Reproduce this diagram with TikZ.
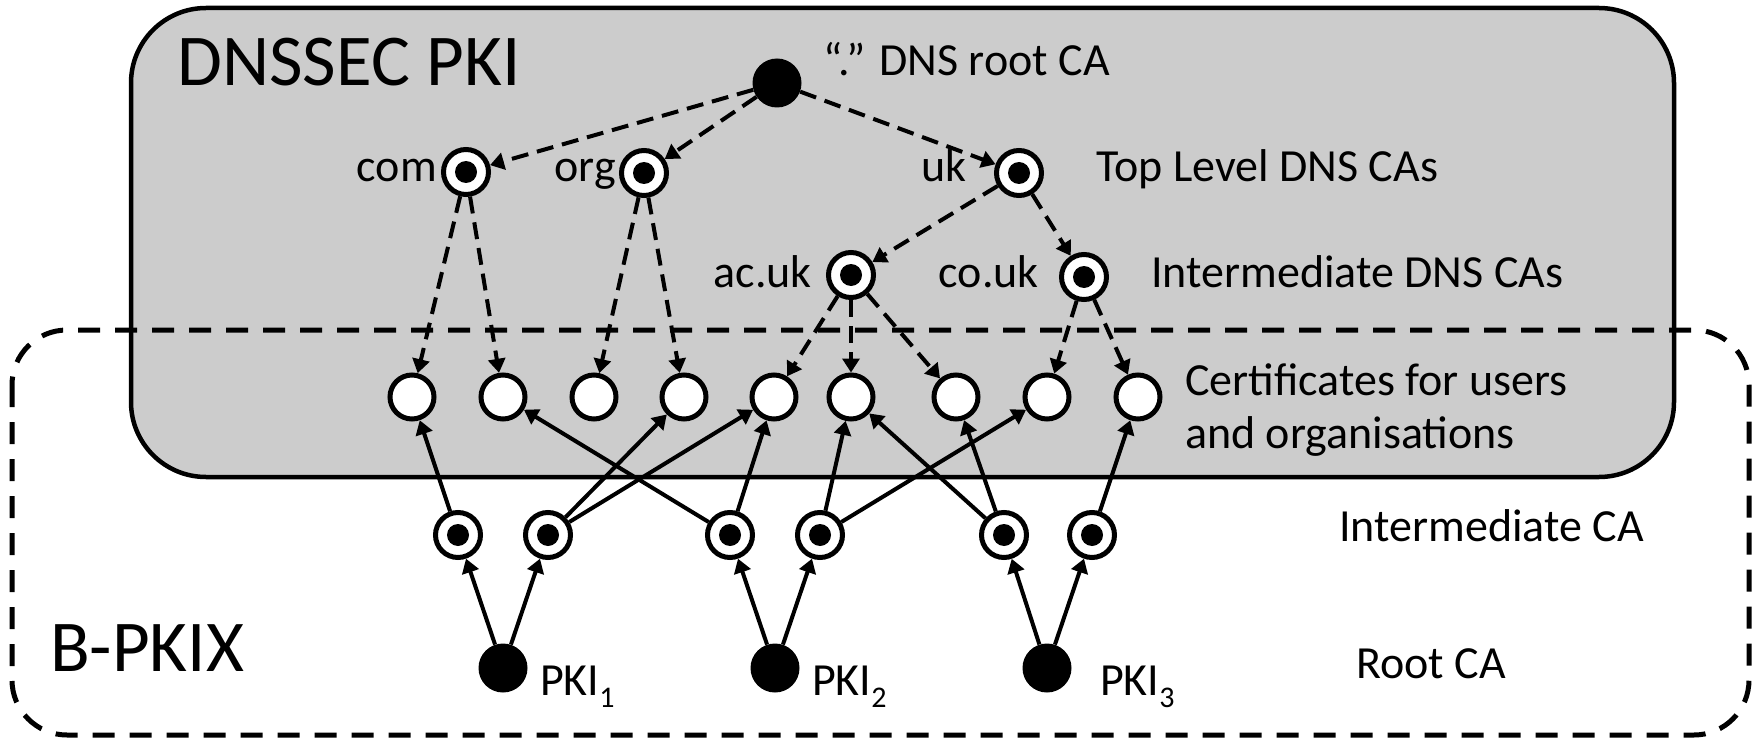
\documentclass[tikz,border=0pt]{standalone}
\usepackage{fontspec}
\setmainfont{Carlito}
\usetikzlibrary{arrows.meta}
\begin{document}
\begin{tikzpicture}[x=1pt,y=-1pt,
  dot/.style={circle, fill=black, minimum size=49pt, inner sep=0pt},
  ca/.style={circle, draw, line width=5pt, fill=white, minimum size=45pt, inner sep=0pt,
    path picture={\fill[black] (path picture bounding box.center) circle (11pt);}},
  cert/.style={circle, draw, line width=5pt, fill=white, minimum size=44pt, inner sep=0pt},
  lbl/.style={inner sep=0pt, font=\fontsize{46}{53}\selectfont},
  big/.style={inner sep=0pt, font=\fontsize{73}{80}\selectfont},
  dnsarrow/.style={line width=4pt, dash pattern=on 17pt off 9pt, -{Triangle[length=14pt,width=17pt]}},
  pkiarrow/.style={line width=4pt, -{Triangle[length=14pt,width=17pt]}},
  grayzone/.style={draw, fill=gray!40, line width=4.5pt, rounded corners=75pt},
  dashzone/.style={draw, line width=5pt, dash pattern=on 22pt off 15pt, rounded corners=55pt},
]
\useasboundingbox (0,0) rectangle (1757,741);
% zones
\path[grayzone] (131,8) rectangle (1674,477);
\path[dashzone] (12,330) rectangle (1749,735);
\node[big, anchor=base west] (dnssec) at (177,86) {DNSSEC PKI};
\node[big, anchor=base west] (bpkix) at (50,671) {B-PKIX};

% DNS nodes
\node[dot] (root) at (777,83) {};
\node[ca] (com) at (466,172) {};
\node[ca] (org) at (644,173) {};
\node[ca] (uk) at (1019,173) {};
\node[ca] (acuk) at (851,275) {};
\node[ca] (couk) at (1084,277) {};

% certificates
\foreach \i/\x in {1/412,2/503,3/594,4/684,5/774,6/851,7/956,8/1047,9/1138}
  \node[cert] (c\i) at (\x,397) {};

% intermediate CAs
\foreach \i/\x in {1/458,2/548,3/730,4/820,5/1004,6/1092}
  \node[ca] (i\i) at (\x,535) {};

% root CAs
\node[dot] (r1) at (503,668) {};
\node[dot] (r2) at (775,668) {};
\node[dot] (r3) at (1047,668) {};

% labels
\node[lbl, anchor=base west] (lroot) at (823,76) {“.” DNS root CA};
\node[lbl, anchor=base east] (lcom) at (437,182) {com};
\node[lbl, anchor=base east] (lorg) at (616,182) {org};
\node[lbl, anchor=base east] (luk) at (967,182) {uk};
\node[lbl, anchor=base west] (ltop) at (1096,182) {Top Level DNS CAs};
\node[lbl, anchor=base east] (lac) at (812,287) {ac.uk};
\node[lbl, anchor=base east] (lco) at (1039,287) {co.uk};
\node[lbl, anchor=base west] (lint) at (1151,287) {Intermediate DNS CAs};
\node[lbl, anchor=base west] (lcert1) at (1185,395) {Certificates for users};
\node[lbl, anchor=base west] (lcert2) at (1185,448) {and organisations};
\node[lbl, anchor=base west] (lica) at (1339,541) {Intermediate CA};
\node[lbl, anchor=base west] (lrca) at (1356,678) {Root CA};
\node[lbl, anchor=base west] (lp1) at (540,695) {PKI{\fontsize{30}{30}\selectfont\raisebox{-12pt}{1}}};
\node[lbl, anchor=base west] (lp2) at (812,695) {PKI{\fontsize{30}{30}\selectfont\raisebox{-12pt}{2}}};
\node[lbl, anchor=base west] (lp3) at (1100,695) {PKI{\fontsize{30}{30}\selectfont\raisebox{-12pt}{3}}};

% DNS dashed arrows
\draw[dnsarrow] (root) -- (com);
\draw[dnsarrow] (root) -- (org);
\draw[dnsarrow] (root) -- (uk);
\draw[dnsarrow] (com) -- (c1);
\draw[dnsarrow] (com) -- (c2);
\draw[dnsarrow] (org) -- (c3);
\draw[dnsarrow] (org) -- (c4);
\draw[dnsarrow] (uk) -- (acuk);
\draw[dnsarrow] (uk) -- (couk);
\draw[dnsarrow] (acuk) -- (c5);
\draw[dnsarrow] (acuk) -- (c6);
\draw[dnsarrow] (acuk) -- (c7);
\draw[dnsarrow] (couk) -- (c8);
\draw[dnsarrow] (couk) -- (c9);

% PKI solid arrows
\draw[pkiarrow] (r1) -- (i1);
\draw[pkiarrow] (r1) -- (i2);
\draw[pkiarrow] (r2) -- (i3);
\draw[pkiarrow] (r2) -- (i4);
\draw[pkiarrow] (r3) -- (i5);
\draw[pkiarrow] (r3) -- (i6);
\draw[pkiarrow] (i1) -- (c1);
\draw[pkiarrow] (i2) -- (c4);
\draw[pkiarrow] (i2) -- (c5);
\draw[pkiarrow] (i3) -- (c2);
\draw[pkiarrow] (i3) -- (c5);
\draw[pkiarrow] (i4) -- (c6);
\draw[pkiarrow] (i4) -- (c8);
\draw[pkiarrow] (i5) -- (c6);
\draw[pkiarrow] (i5) -- (c7);
\draw[pkiarrow] (i6) -- (c9);
\end{tikzpicture}
\end{document}
